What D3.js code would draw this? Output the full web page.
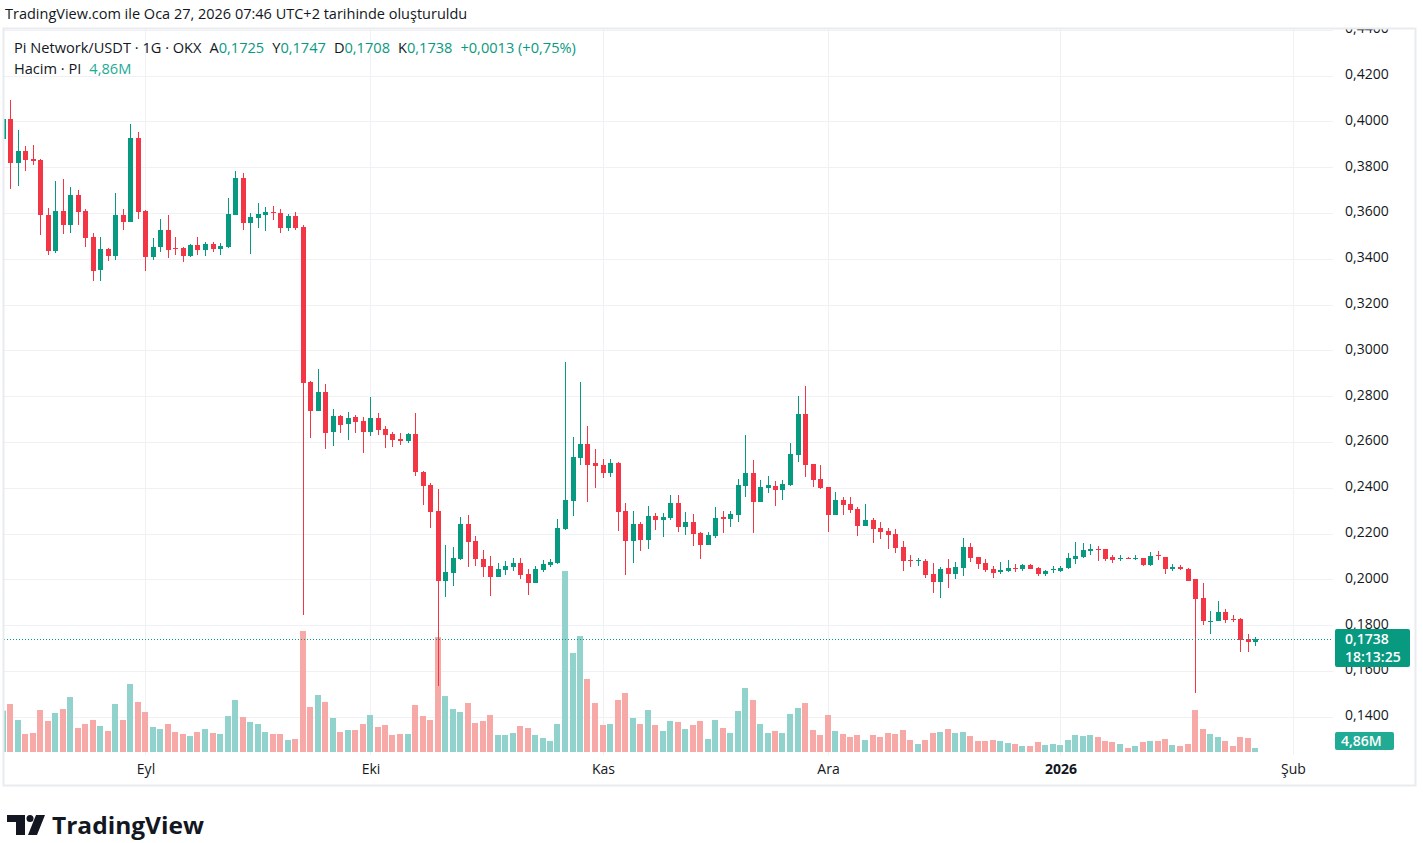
<!DOCTYPE html>
<html>
<head>
<meta charset="utf-8">
<script src="https://cdn.jsdelivr.net/npm/d3@7"></script>
<style>
  body { margin: 0; background: #fff; }
  svg { display: block; }
  text { font-family: "Open Sans", Roboto, "Noto Sans", sans-serif; }
</style>
</head>
<body>
<svg id="chart" width="1423" height="843"></svg>
<script>
// Pi Network/USDT daily candles, OKX (13 Aug 2025 - 27 Jan 2026)
var START_DAY = "2025-08-13";
var opens = [0.3923,0.4010,0.3819,0.3870,0.3836,0.3830,0.3590,0.3435,0.3608,0.3549,0.3678,0.3608,0.3496,0.3352,0.3444,0.3413,0.3590,0.3562,0.3927,0.3608,
  0.3409,0.3453,0.3527,0.3448,0.3448,0.3410,0.3460,0.3439,0.3465,0.3442,0.3451,0.3591,0.3752,0.3556,0.3578,0.3591,0.3604,0.3600,0.3534,0.3586,
  0.3538,0.2862,0.2736,0.2818,0.2645,0.2713,0.2679,0.2709,0.2691,0.2645,0.2704,0.2658,0.2636,0.2614,0.2605,0.2636,0.2469,0.2412,0.2298,0.1994,
  0.2029,0.2089,0.2241,0.2167,0.2089,0.2058,0.2010,0.2041,0.2054,0.2071,0.2023,0.1984,0.2041,0.2062,0.2071,0.2220,0.2342,0.2530,0.2591,0.2508,
  0.2499,0.2464,0.2508,0.2298,0.2167,0.2241,0.2172,0.2276,0.2259,0.2268,0.2333,0.2228,0.2250,0.2202,0.2150,0.2189,0.2270,0.2263,0.2281,0.2407,
  0.2464,0.2338,0.2399,0.2407,0.2390,0.2412,0.2543,0.2722,0.2503,0.2438,0.2403,0.2281,0.2346,0.2329,0.2307,0.2233,0.2259,0.2224,0.2211,0.2198,
  0.2141,0.2086,0.2081,0.2080,0.2023,0.1988,0.2049,0.2023,0.2049,0.2141,0.2097,0.2071,0.2045,0.2032,0.2036,0.2049,0.2045,0.2062,0.2049,0.2023,
  0.2041,0.2036,0.2049,0.2089,0.2097,0.2124,0.2132,0.2132,0.2097,0.2089,0.2093,0.2089,0.2093,0.2062,0.2106,0.2097,0.2045,0.2054,0.2045,0.2001,
  0.1918,0.1815,0.1818,0.1857,0.1827,0.1827,0.1739,0.1725];
var highs = [0.4015,0.4093,0.3962,0.3892,0.3896,0.3835,0.3621,0.3740,0.3748,0.3713,0.3700,0.3617,0.3513,0.3496,0.3448,0.3687,0.3617,0.3990,0.3953,0.3613,
  0.3492,0.3575,0.3592,0.3496,0.3453,0.3465,0.3496,0.3474,0.3474,0.3468,0.3665,0.3783,0.3774,0.3600,0.3643,0.3626,0.3630,0.3617,0.3595,0.3604,
  0.3547,0.2865,0.2918,0.2853,0.2744,0.2717,0.2730,0.2717,0.2710,0.2796,0.2726,0.2669,0.2645,0.2640,0.2638,0.2727,0.2473,0.2420,0.2394,0.2150,
  0.2141,0.2272,0.2281,0.2189,0.2128,0.2102,0.2071,0.2080,0.2093,0.2093,0.2045,0.2058,0.2084,0.2089,0.2263,0.2950,0.2621,0.2862,0.2669,0.2569,
  0.2525,0.2525,0.2512,0.2333,0.2298,0.2250,0.2320,0.2289,0.2289,0.2368,0.2368,0.2294,0.2285,0.2207,0.2207,0.2316,0.2298,0.2298,0.2438,0.2630,
  0.2521,0.2434,0.2451,0.2429,0.2434,0.2595,0.2800,0.2844,0.2505,0.2499,0.2405,0.2381,0.2359,0.2359,0.2316,0.2329,0.2268,0.2250,0.2224,0.2220,
  0.2167,0.2106,0.2093,0.2089,0.2071,0.2054,0.2089,0.2076,0.2180,0.2159,0.2099,0.2089,0.2058,0.2076,0.2084,0.2067,0.2065,0.2067,0.2054,0.2041,
  0.2058,0.2058,0.2115,0.2163,0.2159,0.2154,0.2145,0.2134,0.2106,0.2106,0.2097,0.2106,0.2095,0.2119,0.2124,0.2099,0.2067,0.2062,0.2049,0.2003,
  0.1984,0.1862,0.1905,0.1870,0.1844,0.1829,0.1761,0.1747];
var lows = [0.3900,0.3704,0.3717,0.3784,0.3810,0.3503,0.3417,0.3426,0.3510,0.3513,0.3549,0.3453,0.3304,0.3304,0.3391,0.3396,0.3527,0.3560,0.3575,0.3348,
  0.3396,0.3431,0.3404,0.3417,0.3387,0.3409,0.3417,0.3413,0.3431,0.3416,0.3448,0.3590,0.3525,0.3420,0.3534,0.3521,0.3569,0.3512,0.3521,0.3525,
  0.1844,0.2618,0.2734,0.2570,0.2583,0.2640,0.2610,0.2640,0.2553,0.2627,0.2631,0.2575,0.2579,0.2588,0.2597,0.2450,0.2324,0.2225,0.1535,0.1923,
  0.1971,0.2085,0.2054,0.2058,0.2010,0.1927,0.2008,0.2019,0.2036,0.2001,0.1931,0.1982,0.2032,0.2054,0.2065,0.2215,0.2276,0.2499,0.2338,0.2399,
  0.2442,0.2447,0.2211,0.2019,0.2071,0.2124,0.2132,0.2215,0.2185,0.2259,0.2207,0.2193,0.2145,0.2089,0.2150,0.2180,0.2202,0.2228,0.2250,0.2359,
  0.2202,0.2336,0.2377,0.2320,0.2346,0.2407,0.2512,0.2447,0.2403,0.2395,0.2207,0.2279,0.2281,0.2289,0.2189,0.2231,0.2159,0.2176,0.2132,0.2115,
  0.2036,0.2054,0.2058,0.2006,0.1940,0.1918,0.1962,0.2001,0.2014,0.2076,0.2045,0.2032,0.2006,0.2023,0.2034,0.2032,0.2036,0.2043,0.2014,0.2014,
  0.2027,0.2034,0.2045,0.2067,0.2093,0.2106,0.2080,0.2080,0.2071,0.2080,0.2087,0.2084,0.2058,0.2060,0.2084,0.2023,0.2036,0.2041,0.1991,0.1504,
  0.1800,0.1761,0.1816,0.1809,0.1813,0.1682,0.1682,0.1708];
var closes = [0.4010,0.3819,0.3870,0.3832,0.3828,0.3591,0.3435,0.3608,0.3549,0.3678,0.3605,0.3492,0.3348,0.3444,0.3413,0.3590,0.3562,0.3927,0.3605,0.3409,
  0.3453,0.3527,0.3439,0.3444,0.3410,0.3460,0.3439,0.3465,0.3444,0.3456,0.3595,0.3752,0.3556,0.3582,0.3595,0.3604,0.3600,0.3534,0.3586,0.3534,
  0.2859,0.2736,0.2818,0.2640,0.2713,0.2675,0.2704,0.2688,0.2645,0.2704,0.2653,0.2631,0.2610,0.2605,0.2636,0.2469,0.2407,0.2295,0.1994,0.2032,
  0.2093,0.2241,0.2163,0.2089,0.2054,0.2010,0.2045,0.2058,0.2071,0.2019,0.1984,0.2045,0.2067,0.2076,0.2224,0.2346,0.2534,0.2591,0.2499,0.2495,
  0.2464,0.2508,0.2294,0.2167,0.2241,0.2172,0.2276,0.2259,0.2272,0.2333,0.2228,0.2250,0.2198,0.2150,0.2193,0.2268,0.2265,0.2285,0.2412,0.2464,
  0.2338,0.2403,0.2412,0.2390,0.2416,0.2547,0.2722,0.2499,0.2434,0.2399,0.2281,0.2346,0.2324,0.2303,0.2233,0.2259,0.2220,0.2207,0.2193,0.2137,
  0.2081,0.2081,0.2086,0.2019,0.1988,0.2045,0.2023,0.2054,0.2141,0.2093,0.2067,0.2041,0.2027,0.2041,0.2049,0.2045,0.2062,0.2045,0.2023,0.2036,
  0.2045,0.2049,0.2093,0.2102,0.2128,0.2132,0.2128,0.2089,0.2084,0.2093,0.2089,0.2093,0.2062,0.2102,0.2102,0.2045,0.2054,0.2045,0.1993,0.1914,
  0.1818,0.1820,0.1857,0.1822,0.1822,0.1735,0.1725,0.1738];
// volume in millions of PI
var volumes = [50.2,58.3,38.9,21.9,23.1,51.0,37.7,47.4,52.2,66.8,29.2,34.0,38.9,31.6,25.5,58.3,38.9,82.6,60.8,48.6,
  30.4,27.9,34.0,24.3,21.9,19.4,24.3,27.9,23.1,21.9,43.7,63.2,42.5,36.5,34.0,24.3,21.9,21.9,14.6,15.8,
  147.0,54.7,69.3,60.8,41.3,24.3,26.7,26.7,34.0,45.0,30.4,32.8,20.7,21.9,21.9,57.1,43.7,38.9,139.7,68.0,
  52.2,48.6,59.5,35.2,37.7,45.0,20.7,20.7,23.1,31.6,29.2,20.7,17.0,13.4,34.0,219.9,120.3,140.9,88.7,59.5,
  32.8,34.0,63.2,71.7,41.3,34.0,51.0,32.8,25.5,37.7,36.5,27.9,32.8,37.7,15.8,38.9,29.2,23.1,49.8,77.8,
  63.2,34.0,23.1,25.5,23.1,46.2,53.5,59.5,26.7,20.7,45.0,25.5,21.9,18.2,20.7,14.6,20.7,18.2,23.1,21.9,
  26.7,14.6,9.7,14.6,23.1,24.3,27.9,23.1,24.3,19.4,13.4,13.4,14.6,13.4,10.9,9.7,7.3,7.3,12.2,8.5,
  9.7,8.5,14.6,20.7,19.4,20.7,18.2,13.4,12.2,9.7,4.9,7.3,12.2,13.4,13.4,15.8,8.5,7.3,9.7,51.0,
  27.9,21.9,18.2,13.4,7.3,18.2,17.0,4.86];

var priceTicks = [0.14,0.16,0.18,0.20,0.22,0.24,0.26,0.28,0.30,0.32,0.34,0.36,0.38,0.40,0.42,0.44];
var monthDays = ["2025-09-01","2025-10-01","2025-11-01","2025-12-01","2026-01-01","2026-02-01"];
var monthLabels = ["Eyl","Eki","Kas","Ara","2026","Şub"];
var countdown = "18:13:25";

var UP = "#089981", DOWN = "#f23645";
var UP_VOL = "#92d2cc", DOWN_VOL = "#f7a9a7";
var TXT = "#131722";

var loc = d3.formatLocale({ decimal: ",", thousands: ".", grouping: [3], currency: ["", ""] });
var fmtP = loc.format(".4f");
var fmtPct = loc.format("+.2f");
var fmtM = function(v){ return loc.format(".2f")(v) + "M"; };

var parse = d3.utcParse("%Y-%m-%d");
var start = parse(START_DAY);
var rows = opens.map(function(o, i){
  return { date: d3.utcDay.offset(start, i), o: o, h: highs[i], l: lows[i], c: closes[i], v: volumes[i] };
});
var last = rows[rows.length - 1], prev = rows[rows.length - 2];

var svg = d3.select("#chart");
var pane = { left: 4, right: 1333, top: 29, bottom: 755 };

var x = d3.scaleUtc().domain([start, parse("2026-02-01")]).range([3, 1293]);
var y = d3.scaleLinear().domain([0.40, 0.20]).range([121.3, 579.3]);
var yVol = d3.scaleLinear().domain([0, 243]).range([752, 552]);

function cx(d){ return Math.round(x(d) - 0.5) + 0.5; }

// clip for the main pane
var defs = svg.append("defs");
defs.append("clipPath").attr("id", "pane").append("rect")
  .attr("x", pane.left).attr("y", pane.top).attr("width", pane.right - pane.left).attr("height", pane.bottom - pane.top);
defs.append("clipPath").attr("id", "axisclip").append("rect")
  .attr("x", pane.right).attr("y", pane.top).attr("width", 90).attr("height", pane.bottom - pane.top);

// header
svg.append("text").attr("x", 5).attr("y", 19).attr("font-size", 14.5).attr("fill", TXT)
  .text("TradingView.com ile Oca 27, 2026 07:46 UTC+2 tarihinde oluşturuldu");

var g = svg.append("g").attr("clip-path", "url(#pane)");

// grid
g.append("g").selectAll("line").data(priceTicks).join("line")
  .attr("x1", pane.left).attr("x2", pane.right)
  .attr("y1", function(d){ return Math.round(y(d)) + 0.5; })
  .attr("y2", function(d){ return Math.round(y(d)) + 0.5; })
  .attr("stroke", "#f0f1f4").attr("stroke-width", 1);
g.append("g").selectAll("line").data(monthDays).join("line")
  .attr("x1", function(d){ return cx(parse(d)); }).attr("x2", function(d){ return cx(parse(d)); })
  .attr("y1", pane.top).attr("y2", pane.bottom)
  .attr("stroke", "#f0f1f4").attr("stroke-width", 1);

// volume
g.append("g").selectAll("rect").data(rows).join("rect")
  .attr("x", function(d){ return Math.round(cx(d.date) - 3.5); })
  .attr("width", 6)
  .attr("y", function(d){ return yVol(d.v); })
  .attr("height", function(d){ return yVol(0) - yVol(d.v); })
  .attr("fill", function(d){ return d.c >= d.o ? UP_VOL : DOWN_VOL; });

// candles
var candles = g.append("g").selectAll("g").data(rows).join("g");
candles.append("rect")
  .attr("x", function(d){ return cx(d.date) - 0.5; }).attr("width", 1)
  .attr("y", function(d){ return Math.round(y(d.h)); })
  .attr("height", function(d){ return Math.max(1, Math.round(y(d.l)) - Math.round(y(d.h))); })
  .attr("fill", function(d){ return d.c >= d.o ? UP : DOWN; });
candles.append("rect")
  .attr("x", function(d){ return cx(d.date) - 2.5; }).attr("width", 5)
  .attr("y", function(d){ return Math.round(y(Math.max(d.o, d.c))); })
  .attr("height", function(d){ return Math.max(1, Math.round(y(Math.min(d.o, d.c))) - Math.round(y(Math.max(d.o, d.c)))); })
  .attr("fill", function(d){ return d.c >= d.o ? UP : DOWN; });

// last price line
var lastY = Math.round(y(last.c)) + 0.5;
g.append("line").attr("x1", pane.left).attr("x2", pane.right).attr("y1", lastY).attr("y2", lastY)
  .attr("stroke", UP).attr("stroke-width", 1).attr("stroke-dasharray", "1,2");

// price axis
var yAxis = d3.axisRight(y).tickValues(priceTicks).tickFormat(fmtP).tickSize(0).tickPadding(0);
var ya = svg.append("g").attr("clip-path", "url(#axisclip)")
  .append("g").attr("transform", "translate(1345,-1.5)").call(yAxis);
ya.select(".domain").remove();
ya.selectAll("text").attr("font-size", 14).attr("fill", TXT).attr("font-family", null);

// time axis
var xAxis = d3.axisBottom(x).tickValues(monthDays.map(parse))
  .tickFormat(function(d, i){ return monthLabels[i]; }).tickSize(0).tickPadding(0);
var xa = svg.append("g").attr("transform", "translate(0,764)").call(xAxis);
xa.select(".domain").remove();
xa.selectAll("text").attr("font-size", 14).attr("fill", TXT).attr("font-family", null)
  .attr("font-weight", function(d, i){ return monthLabels[i] === "2026" ? "bold" : null; });

// last price badge
var badgeTop = Math.round(y(last.c)) - 10;
svg.append("rect").attr("x", 1335).attr("y", badgeTop).attr("width", 75).attr("height", 38).attr("rx", 2).attr("fill", UP);
svg.append("text").attr("x", 1345).attr("y", badgeTop + 10).attr("dy", "0.35em").attr("font-size", 14)
  .attr("fill", "#fff").attr("font-weight", 600).text(fmtP(last.c));
svg.append("text").attr("x", 1345).attr("y", badgeTop + 28).attr("dy", "0.35em").attr("font-size", 14)
  .attr("fill", "#fff").attr("font-weight", 600).text(countdown);

// volume badge
svg.append("rect").attr("x", 1335).attr("y", 732).attr("width", 59).attr("height", 18).attr("rx", 2).attr("fill", "#22ab94");
svg.append("text").attr("x", 1341).attr("y", 741).attr("dy", "0.35em").attr("font-size", 14)
  .attr("fill", "#fff").attr("font-weight", 600).text(fmtM(last.v));

// legend
var leg = svg.append("text").attr("x", 14).attr("y", 53).attr("font-size", 14.6).attr("fill", TXT);
leg.append("tspan").text("Pi Network/USDT · 1G · OKX");
[["A", last.o], ["Y", last.h], ["D", last.l], ["K", last.c]].forEach(function(p){
  leg.append("tspan").attr("dx", 8).text(p[0]);
  leg.append("tspan").attr("fill", UP).text(fmtP(p[1]));
});
var chg = last.c - prev.c;
leg.append("tspan").attr("dx", 8).attr("fill", UP)
  .text((chg >= 0 ? "+" : "") + fmtP(chg) + " (" + fmtPct(chg / prev.c * 100) + "%)");

var leg2 = svg.append("text").attr("x", 14).attr("y", 74).attr("font-size", 14.6).attr("fill", TXT);
leg2.append("tspan").text("Hacim · PI");
leg2.append("tspan").attr("dx", 8).attr("fill", "#22ab94").text(fmtM(last.v));

// frame
svg.append("rect").attr("x", 3.5).attr("y", 28.5).attr("width", 1412).attr("height", 757)
  .attr("fill", "none").attr("stroke", "#e9ebef").attr("stroke-width", 2);

// TradingView logo
var logo = svg.append("g").attr("fill", TXT);
logo.append("path").attr("d", "M7,815H25V835H16V822H7Z");
logo.append("circle").attr("cx", 30).attr("cy", 818.5).attr("r", 3.5);
logo.append("path").attr("d", "M36,815H45L37,835H28Z");
logo.append("text").attr("x", 52).attr("y", 834).attr("font-size", 24).attr("font-weight", "bold")
  .attr("font-family", "Roboto, sans-serif")
  .attr("textLength", 152).attr("lengthAdjust", "spacingAndGlyphs").text("TradingView");
</script>
</body>
</html>
